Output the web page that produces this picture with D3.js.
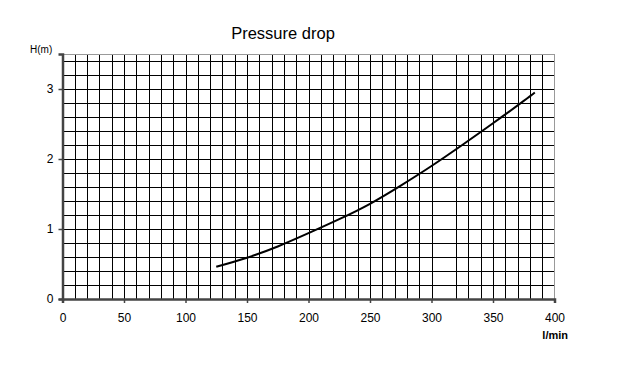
<!DOCTYPE html>
<html>
<head>
<meta charset="utf-8">
<script src="https://cdn.jsdelivr.net/npm/d3@7"></script>
<style>
  body { margin: 0; background: #fff; }
  svg { display: block; }
  text { font-family: "Liberation Sans", Arial, sans-serif; fill: #000; }
</style>
</head>
<body>
<svg id="chart" width="636" height="366"></svg>
<script>
// Data
const flow = [125, 150, 175, 200, 225, 250, 275, 300, 325, 350, 375, 384];
const head = [0.46, 0.59, 0.75, 0.94, 1.14, 1.36, 1.62, 1.90, 2.20, 2.51, 2.83, 2.95];
const xTicks = [0, 50, 100, 150, 200, 250, 300, 350, 400];
const yTicks = [0, 1, 2, 3];
const xGrid = [10, 20, 30, 40, 50, 60, 70, 80, 90, 100, 110, 120, 130, 140, 150, 160, 170, 180, 190, 200,
               210, 220, 230, 240, 250, 260, 270, 280, 290, 300, 320, 330, 340, 350, 360, 370, 380, 390];
const yGrid = [0.2, 0.4, 0.6, 0.8, 1.0, 1.2, 1.4, 1.6, 1.8, 2.0, 2.2, 2.4, 2.6, 2.8, 3.0, 3.2, 3.4];
const title = "Pressure drop";
const yTitle = "H(m)";
const xTitle = "l/min";

const svg = d3.select("#chart");
const x = d3.scaleLinear().domain([0, 400]).range([62.5, 554.5]);
const y = d3.scaleLinear().domain([0, 3.5]).range([299, 54]);

// grid
svg.append("g").selectAll("line").data(xGrid).join("line")
  .attr("x1", d => Math.round(x(d)) + 0.5).attr("x2", d => Math.round(x(d)) + 0.5)
  .attr("y1", y(3.5)).attr("y2", y(0))
  .attr("stroke", "#000").attr("stroke-width", 1);
svg.append("g").selectAll("line").data(yGrid).join("line")
  .attr("y1", d => Math.round(y(d)) + 0.5).attr("y2", d => Math.round(y(d)) + 0.5)
  .attr("x1", x(0)).attr("x2", x(400))
  .attr("stroke", "#000").attr("stroke-width", 1);

// top & right border
svg.append("line").attr("x1", x(0)).attr("x2", x(400)).attr("y1", y(3.5) + 0.5).attr("y2", y(3.5) + 0.5)
  .attr("stroke", "#999").attr("stroke-width", 1);
svg.append("line").attr("x1", x(400)).attr("x2", x(400)).attr("y1", y(3.5)).attr("y2", y(0))
  .attr("stroke", "#999").attr("stroke-width", 1);

// axes
const xAxis = svg.append("g").attr("transform", `translate(0,${y(0)})`)
  .call(d3.axisBottom(x).tickValues(xTicks).tickSize(4).tickPadding(10).tickFormat(d3.format("d")));
const yAxis = svg.append("g").attr("transform", `translate(${x(0)},0)`)
  .call(d3.axisLeft(y).tickValues(yTicks).tickSize(4).tickPadding(5).tickFormat(d3.format("d")));
[xAxis, yAxis].forEach(g => {
  g.select(".domain").attr("stroke", "#444").attr("stroke-width", 2.5);
  g.selectAll(".tick line").attr("stroke", "#444").attr("stroke-width", 1.5);
  g.selectAll(".tick text").attr("font-size", 12).attr("fill", "#000")
    .style("font-family", "'Liberation Sans', Arial, sans-serif");
});

// curve
const line = d3.line().x((d, i) => x(flow[i])).y(d => y(d)).curve(d3.curveNatural);
svg.append("path").datum(head).attr("d", line)
  .attr("fill", "none").attr("stroke", "#000").attr("stroke-width", 2);

// texts
svg.append("text").attr("x", 283).attr("y", 39).attr("text-anchor", "middle")
  .attr("font-size", 16.5).text(title);
svg.append("text").attr("x", 30).attr("y", 53).attr("font-size", 10).text(yTitle);
svg.append("text").attr("x", 568).attr("y", 339).attr("text-anchor", "end")
  .attr("font-size", 11).attr("font-weight", "bold").text(xTitle);
</script>
</body>
</html>
